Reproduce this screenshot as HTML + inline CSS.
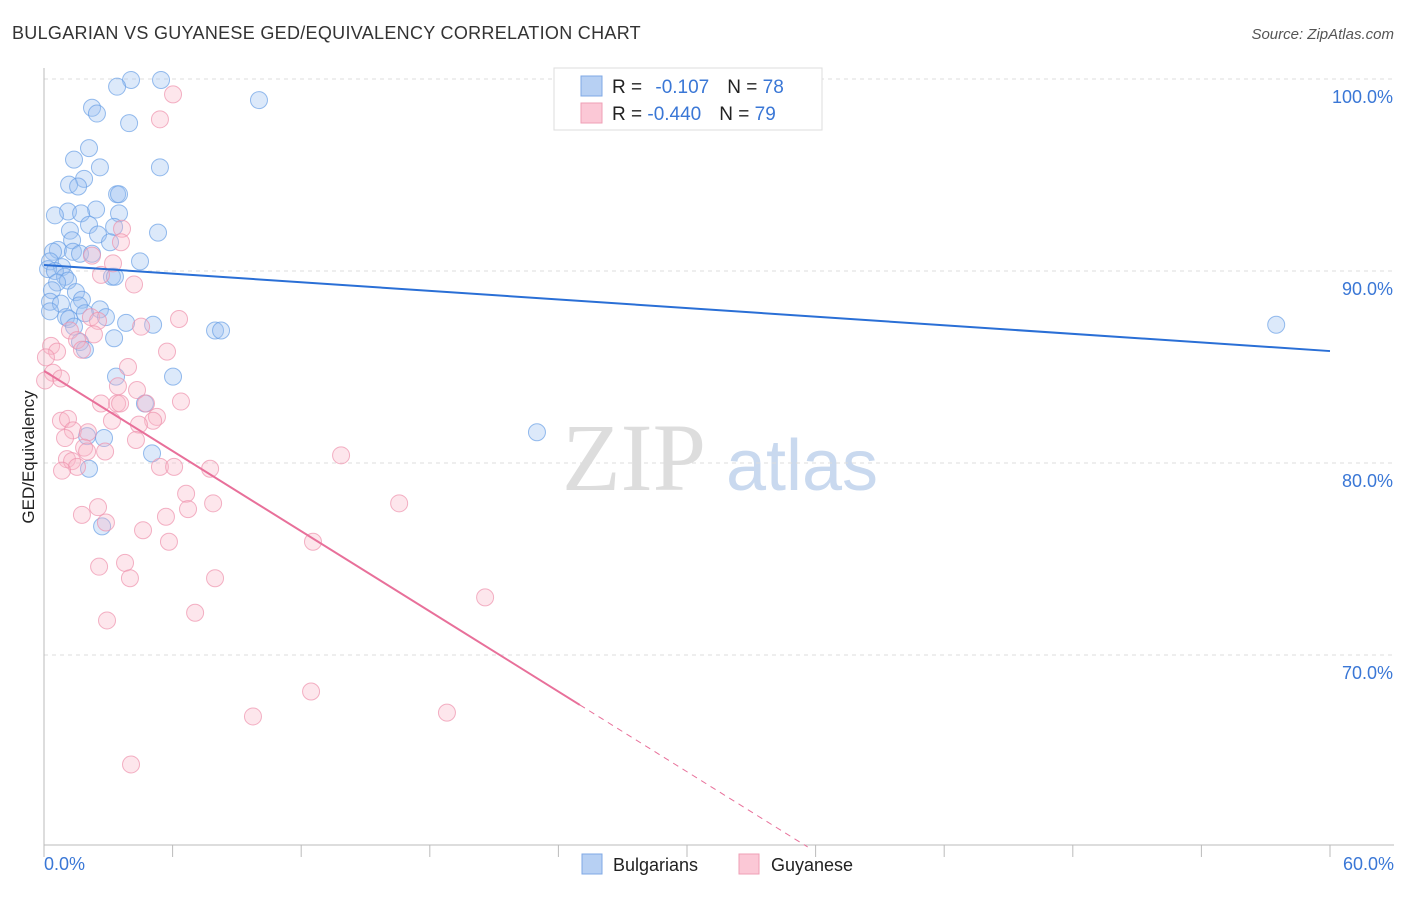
<!DOCTYPE html>
<html><head><meta charset="utf-8">
<style>
body{margin:0;background:#fff;font-family:"Liberation Sans",sans-serif;}
svg text{font-family:"Liberation Sans",sans-serif;}
</style></head>
<body>
<svg id="chart" width="1406" height="892" xmlns="http://www.w3.org/2000/svg">
<text x="12" y="39" font-size="18" letter-spacing="0.3" fill="#333">BULGARIAN VS GUYANESE GED/EQUIVALENCY CORRELATION CHART</text>
<text x="1394" y="39" font-size="15" fill="#555" font-style="italic" text-anchor="end">Source: ZipAtlas.com</text>
<g>
<text x="634" y="490" font-size="96" fill="#ddd" text-anchor="middle" font-family="Liberation Serif" style="font-family:'Liberation Serif',serif">ZIP</text>
<text x="802" y="490" font-size="72" fill="#c9d9ef" text-anchor="middle">atlas</text>
</g>
<g id="grid"></g>
<g id="axes"></g>
<g id="marks"></g>
<text transform="translate(34,457) rotate(-90)" font-size="17" fill="#222" text-anchor="middle">GED/Equivalency</text>
<g>
<rect x="554" y="68" width="268" height="62" fill="#fff" stroke="#ddd"/>
<rect x="581" y="76" width="21" height="20" fill="#b7d0f3" stroke="#7fa8e6"/>
<rect x="581" y="103" width="21" height="20" fill="#fbc8d6" stroke="#ef9fb6"/>
<text x="612" y="93" font-size="19" fill="#222">R = <tspan fill="#3a77d6" dx="8">-0.107</tspan><tspan dx="18">N = </tspan><tspan fill="#3a77d6">78</tspan></text>
<text x="612" y="120" font-size="19" fill="#222">R = <tspan fill="#3a77d6">-0.440</tspan><tspan dx="18">N = </tspan><tspan fill="#3a77d6">79</tspan></text>
</g>
<g>
<rect x="582" y="854" width="20" height="20" fill="#b7d0f3" stroke="#7fa8e6"/>
<text x="613" y="871" font-size="18" fill="#222">Bulgarians</text>
<rect x="739" y="854" width="20" height="20" fill="#fbc8d6" stroke="#ef9fb6"/>
<text x="771" y="871" font-size="18" fill="#222">Guyanese</text>
</g>
</svg>
<script>
const yTicks=[100,90,80,70];
const yTickLabels=["100.0%","90.0%","80.0%","70.0%"];
const xTickLabels=["0.0%","60.0%"];
const blueX=[4.06,5.46,3.41,10.03,2.24,2.47,3.97,2.10,1.40,2.61,5.41,1.87,1.17,1.59,3.41,3.50,2.43,1.12,1.73,3.50,0.51,2.10,3.27,1.21,5.32,2.52,1.31,3.08,0.65,0.42,1.35,1.68,2.24,4.48,0.28,0.84,0.19,0.51,0.98,3.17,3.31,1.12,0.61,0.37,1.49,1.77,0.28,0.79,1.63,2.61,0.28,1.91,2.89,1.03,1.17,3.83,5.09,1.40,7.98,8.26,57.49,3.27,1.68,1.91,3.36,6.02,4.71,23.0,2.01,2.80,5.04,2.10,2.71];
const blueY=[99.95,99.95,99.6,98.9,98.5,98.2,97.7,96.4,95.8,95.4,95.4,94.8,94.5,94.4,94.0,94.0,93.2,93.1,93.0,93.0,92.9,92.4,92.3,92.1,92.0,91.9,91.6,91.5,91.1,91.0,91.0,90.9,90.9,90.5,90.5,90.2,90.1,90.0,89.7,89.7,89.7,89.5,89.4,89.0,88.9,88.5,88.4,88.3,88.2,88.0,87.9,87.8,87.6,87.6,87.5,87.3,87.2,87.1,86.9,86.9,87.2,86.5,86.3,85.9,84.5,84.5,83.1,81.6,81.4,81.3,80.5,79.7,76.7];
const pinkX=[6.02,5.41,3.64,3.59,2.24,3.22,2.66,4.20,2.19,6.3,2.52,4.53,1.21,2.33,1.54,0.33,0.61,5.74,1.77,0.09,3.92,0.42,0.79,0.05,3.45,4.34,2.66,3.41,3.55,6.39,4.76,5.27,5.09,0.79,1.12,3.17,4.43,1.35,2.05,0.98,4.29,1.87,2.85,2.01,1.07,13.86,1.31,1.54,0.84,5.41,6.07,7.75,6.63,7.89,16.57,2.52,6.72,1.77,5.69,2.89,4.62,12.55,5.83,3.78,2.57,4.01,7.98,20.58,7.05,2.94,12.46,18.8,9.75,4.06];
const pinkY=[99.2,97.9,92.2,91.5,90.8,90.4,89.8,89.3,87.6,87.5,87.4,87.1,86.9,86.7,86.4,86.1,85.8,85.8,85.9,85.5,85.0,84.7,84.4,84.3,84.0,83.8,83.1,83.1,83.1,83.2,83.1,82.4,82.2,82.2,82.3,82.2,82.0,81.7,81.6,81.3,81.2,80.8,80.6,80.6,80.2,80.4,80.1,79.8,79.6,79.8,79.8,79.7,78.4,77.9,77.9,77.7,77.6,77.3,77.2,76.9,76.5,75.9,75.9,74.8,74.6,74.0,74.0,73.0,72.2,71.8,68.1,67.0,66.8,64.3];
const blueTrend=[90.31,85.83];
const pinkTrend=[84.8,67.4];
const pinkTrendEndX=25.0;

const NS="http://www.w3.org/2000/svg";
const X=v=>44+v/60*1286;
const Y=v=>79+(100-v)*19.2;
function mk(tag,attrs,parent){const e=document.createElementNS(NS,tag);for(const k in attrs)e.setAttribute(k,attrs[k]);parent.appendChild(e);return e;}
const grid=document.getElementById('grid'),axes=document.getElementById('axes'),marks=document.getElementById('marks');
yTicks.forEach((t,i)=>{
 const l=mk('line',{x1:44,x2:1394,y1:Y(t),y2:Y(t),stroke:'#ddd','stroke-dasharray':'4,4'},grid);
 
 
 const tx=mk('text',{x:1393,y:Y(t)+24,'font-size':18,fill:'#3a77d6','text-anchor':'end'},axes);
 tx.textContent=yTickLabels[i];
 
 
});
const ax=mk('line',{x1:44,x2:1394,y1:845,y2:845,stroke:'#bbb'},axes);


const ay=mk('line',{x1:44,x2:44,y1:68,y2:845,stroke:'#bbb'},axes);


for(let i=0;i<=10;i++){
 const t=mk('line',{x1:X(i*6),x2:X(i*6),y1:845,y2:857,stroke:'#bbb'},axes);
 
 
}
[[0,'start',44],[1,'end',1394]].forEach(([i,a,x])=>{
 const t=mk('text',{x:x,y:870,'font-size':18,fill:'#3a77d6','text-anchor':a},axes);
 t.textContent=xTickLabels[i];
 
 
});
function pts(xs,ys,fill,stroke,name){
 xs.forEach((x,i)=>{
  const c=mk('circle',{cx:X(x),cy:Y(ys[i]),r:8.5,fill:fill,'fill-opacity':0.35,stroke:stroke,'stroke-opacity':0.7,'stroke-width':1},marks);
  
  
 });
}
pts(blueX,blueY,'#9cc0f0','#6a9fe6','bulgarian-point');
pts(pinkX,pinkY,'#f9b6c9','#ee91ad','guyanese-point');
const bl=mk('line',{x1:X(0),y1:Y(blueTrend[0]),x2:X(60),y2:Y(blueTrend[1]),stroke:'#2a6fd6','stroke-width':2},marks);


const slope=(pinkTrend[1]-pinkTrend[0])/pinkTrendEndX;
const pl=mk('line',{x1:X(0),y1:Y(pinkTrend[0]),x2:X(pinkTrendEndX),y2:Y(pinkTrend[1]),stroke:'#e8709a','stroke-width':2},marks);


const xEnd=(60-pinkTrend[0])/slope;
const pd=mk('line',{x1:X(pinkTrendEndX),y1:Y(pinkTrend[1]),x2:X(xEnd),y2:Y(60),stroke:'#e8709a','stroke-width':1,'stroke-dasharray':'6,5'},marks);


</script>
</body></html>
